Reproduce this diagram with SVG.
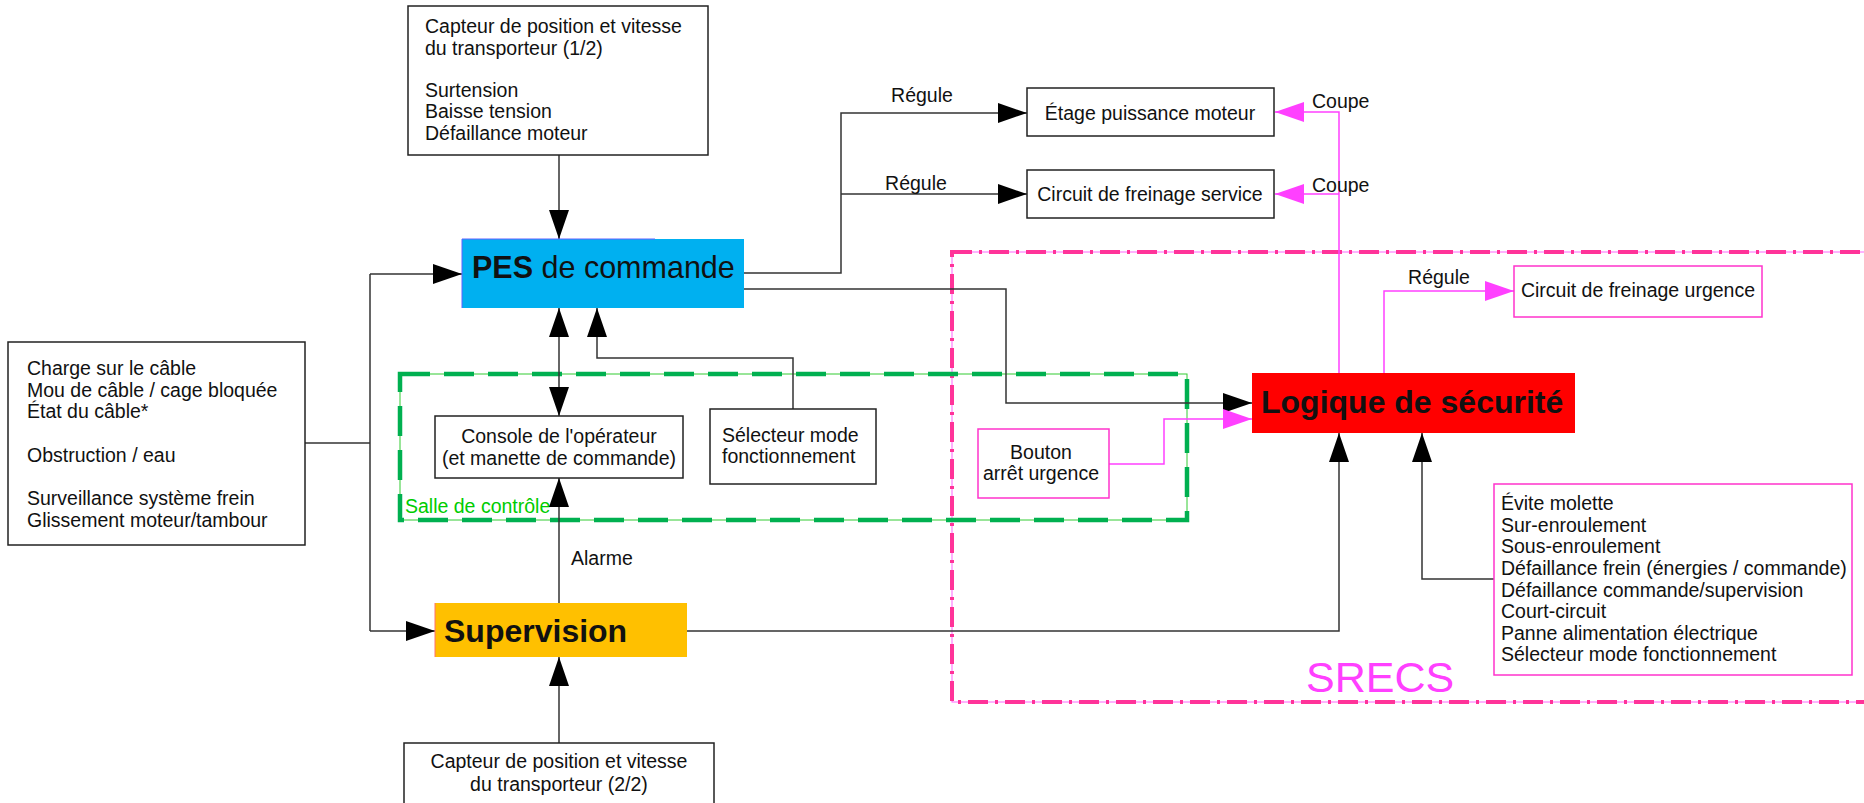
<svg xmlns="http://www.w3.org/2000/svg" width="1864" height="803" viewBox="0 0 1864 803">
<style>
text{font-family:"Liberation Sans",Arial,sans-serif;fill:#111}
.t{font-size:19.5px}
.c{text-anchor:middle}
.box{fill:#fff;stroke:#222;stroke-width:1.5}
.mbox{fill:#fff;stroke:#ff33cc;stroke-width:1.5}
.ln{fill:none;stroke:#333;stroke-width:1.5}
.mln{fill:none;stroke:#ff40ff;stroke-width:1.5}
.b{font-weight:bold;font-size:32px}
</style>
<defs>
<marker id="ak" markerUnits="userSpaceOnUse" markerWidth="30" markerHeight="22" refX="29" refY="10" orient="auto-start-reverse"><path d="M0,0 L29,10 L0,20 z" fill="#000"/></marker>
<marker id="am" markerUnits="userSpaceOnUse" markerWidth="30" markerHeight="22" refX="29" refY="10" orient="auto"><path d="M0,0 L29,10 L0,20 z" fill="#ff40ff"/></marker>
</defs>
<rect width="1864" height="803" fill="#fff"/>

<g id="srecs">
<rect x="952" y="252" width="940" height="450" fill="none" stroke="#ff66ff" stroke-width="1"/>
<rect x="952" y="252" width="940" height="450" fill="none" stroke="#ff3399" stroke-width="4" stroke-dasharray="20 7 3 7"/>
<text x="1306" y="692" style="font-size:43px;fill:#ff40ff">SRECS</text>
</g>

<g id="salle">
<rect x="400" y="374" width="787" height="146" fill="none" stroke="#33cc33" stroke-width="1"/>
<rect x="400" y="374" width="787" height="146" fill="none" stroke="#00b050" stroke-width="4.5" stroke-dasharray="30 14"/>
<text class="t" x="405" y="513" style="fill:#00cc00">Salle de contrôle</text>
</g>

<g id="connectors">
<path class="ln" d="M559,155 V239" marker-end="url(#ak)"/>
<path class="ln" d="M305,443 H370"/>
<path class="ln" d="M370,274 V631"/>
<path class="ln" d="M370,274 H462" marker-end="url(#ak)"/>
<path class="ln" d="M370,631 H435" marker-end="url(#ak)"/>
<path class="ln" d="M744,273 H841 V113 H1027" marker-end="url(#ak)"/>
<path class="ln" d="M841,194 H1027" marker-end="url(#ak)"/>
<path class="ln" d="M744,289 H1006 V403 H1252" marker-end="url(#ak)"/>
<path class="ln" d="M559,308 V416" marker-start="url(#ak)" marker-end="url(#ak)"/>
<path class="ln" d="M793,409 V358 H597 V308" marker-end="url(#ak)"/>
<path class="ln" d="M559,603 V478" marker-end="url(#ak)"/>
<path class="ln" d="M559,743 V657" marker-end="url(#ak)"/>
<path class="ln" d="M687,631 H1339 V433" marker-end="url(#ak)"/>
<path class="ln" d="M1494,579 H1422 V433" marker-end="url(#ak)"/>
<path class="mln" d="M1339,373 V112 H1275" marker-end="url(#am)"/>
<path class="mln" d="M1339,194 H1275" marker-end="url(#am)"/>
<path class="mln" d="M1384,373 V291 H1514" marker-end="url(#am)"/>
<path class="mln" d="M1109,464 H1164 V419 H1252" marker-end="url(#am)"/>
<text class="t c" x="922" y="102">Régule</text>
<text class="t c" x="916" y="190">Régule</text>
<text class="t" x="1312" y="108">Coupe</text>
<text class="t" x="1312" y="192">Coupe</text>
<text class="t c" x="1439" y="284">Régule</text>
<text class="t" x="571" y="565">Alarme</text>
</g>

<g id="capteur1">
<rect class="box" x="408" y="6" width="300" height="149"/>
<text class="t" x="425" y="33">Capteur de position et vitesse</text>
<text class="t" x="425" y="55">du transporteur (1/2)</text>
<text class="t" x="425" y="97">Surtension</text>
<text class="t" x="425" y="118">Baisse tension</text>
<text class="t" x="425" y="140">Défaillance moteur</text>
</g>

<g id="pes">
<rect x="462" y="239" width="282" height="69" fill="#00b0f0"/>
<path d="M462,308 V239 H655" fill="none" stroke="#6060ff" stroke-width="1"/>
<text x="472" y="278" style="font-size:30.5px"><tspan font-weight="bold">PES</tspan> de commande</text>
</g>

<g id="etage">
<rect class="box" x="1027" y="88" width="247" height="48"/>
<text class="t c" x="1150" y="120">Étage puissance moteur</text>
</g>

<g id="frein-service">
<rect class="box" x="1027" y="170" width="247" height="48"/>
<text class="t c" x="1150" y="201">Circuit de freinage service</text>
</g>

<g id="frein-urgence">
<rect class="mbox" x="1514" y="266" width="248" height="51"/>
<text class="t c" x="1638" y="297">Circuit de freinage urgence</text>
</g>

<g id="logique">
<rect x="1252" y="373" width="323" height="60" fill="#ff0000"/>
<text class="b" x="1261" y="413">Logique de sécurité</text>
</g>

<g id="gauche">
<rect class="box" x="8" y="342" width="297" height="203"/>
<text class="t" x="27" y="375">Charge sur le câble</text>
<text class="t" x="27" y="397">Mou de câble / cage bloquée</text>
<text class="t" x="27" y="418">État du câble*</text>
<text class="t" x="27" y="462">Obstruction / eau</text>
<text class="t" x="27" y="505">Surveillance système frein</text>
<text class="t" x="27" y="527">Glissement moteur/tambour</text>
</g>

<g id="console">
<rect class="box" x="435" y="416" width="248" height="62"/>
<text class="t c" x="559" y="443">Console de l'opérateur</text>
<text class="t c" x="559" y="465">(et manette de commande)</text>
</g>

<g id="selecteur">
<rect class="box" x="710" y="409" width="166" height="75"/>
<text class="t" x="722" y="442">Sélecteur mode</text>
<text class="t" x="722" y="463">fonctionnement</text>
</g>

<g id="bouton">
<rect class="mbox" x="978" y="429" width="131" height="69"/>
<text class="t c" x="1041" y="459">Bouton</text>
<text class="t c" x="1041" y="480">arrêt urgence</text>
</g>

<g id="defauts">
<rect class="mbox" x="1494" y="484" width="358" height="191"/>
<text class="t" x="1501" y="510">Évite molette</text>
<text class="t" x="1501" y="532">Sur-enroulement</text>
<text class="t" x="1501" y="553">Sous-enroulement</text>
<text class="t" x="1501" y="575">Défaillance frein (énergies / commande)</text>
<text class="t" x="1501" y="597">Défaillance commande/supervision</text>
<text class="t" x="1501" y="618">Court-circuit</text>
<text class="t" x="1501" y="640">Panne alimentation électrique</text>
<text class="t" x="1501" y="661">Sélecteur mode fonctionnement</text>
</g>

<g id="supervision">
<rect x="435" y="603" width="252" height="54" fill="#ffc000"/>
<path d="M435,603 V657" stroke="#ff7070" stroke-width="1"/>
<text class="b" x="444" y="642">Supervision</text>
</g>

<g id="capteur2">
<rect class="box" x="404" y="743" width="310" height="80"/>
<text class="t c" x="559" y="768">Capteur de position et vitesse</text>
<text class="t c" x="559" y="791">du transporteur (2/2)</text>
</g>
</svg>
